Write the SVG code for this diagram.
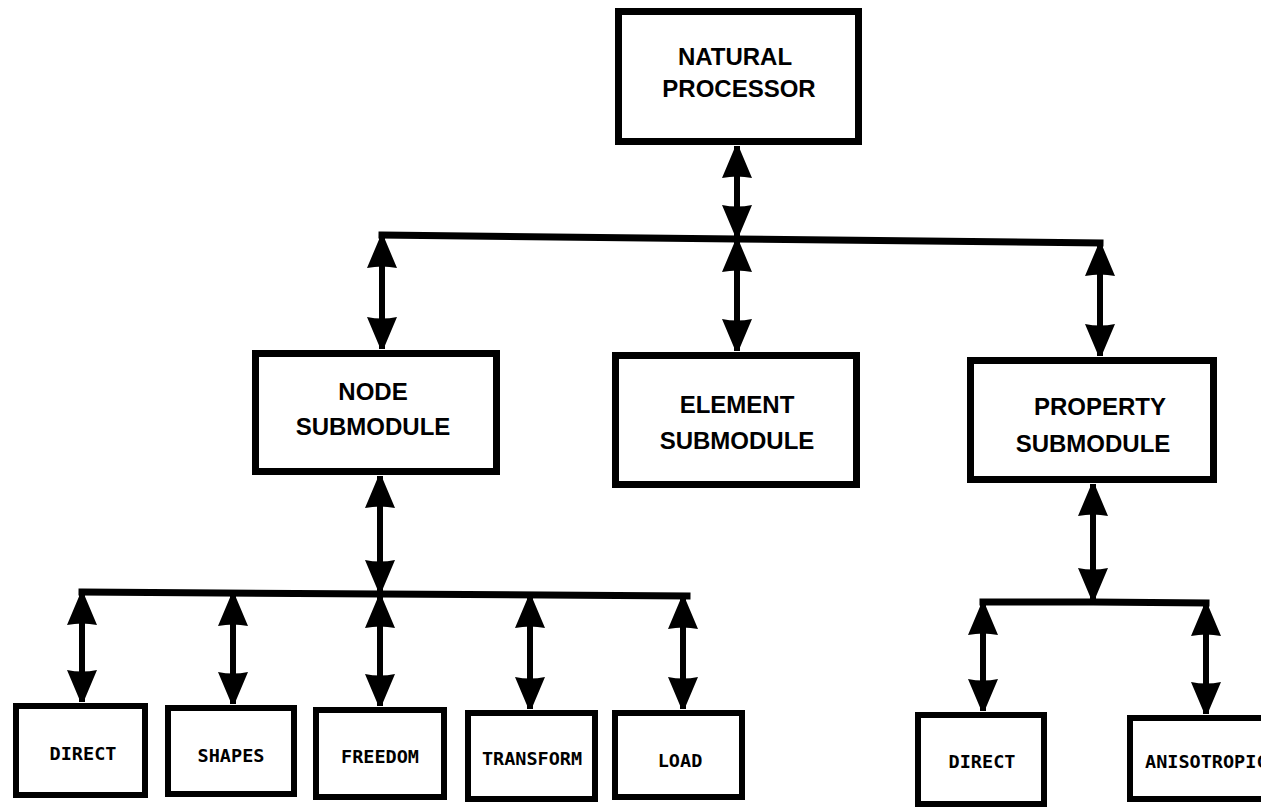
<svg xmlns="http://www.w3.org/2000/svg" width="1261" height="808" viewBox="0 0 1261 808">
<style>
.box{fill:#fff;stroke:#000;stroke-width:7}
.sbox{fill:#fff;stroke:#000;stroke-width:6}
.t{font-family:"Liberation Sans",Arial,sans-serif;font-weight:bold;font-size:24px;fill:#000;text-anchor:middle}
.s{font-family:"DejaVu Sans Mono","Liberation Mono",monospace;font-weight:bold;font-size:18.5px;fill:#000;text-anchor:middle}
.bus{stroke:#000;stroke-width:7;fill:none;stroke-linecap:square}
.c{stroke:#000;stroke-width:6;fill:none;marker-start:url(#ah);marker-end:url(#ah)}
</style>
<defs>
<marker id="ah" viewBox="0 0 32 32" refX="32" refY="16" markerWidth="32" markerHeight="32" markerUnits="userSpaceOnUse" orient="auto-start-reverse">
<path d="M0,1 Q3,16 0,31 L32,17.5 L32,14.5 Z" fill="#000"/>
</marker>
</defs>
<rect width="1261" height="808" fill="#fff"/>
<g id="connectors">
<polyline class="bus" points="382,235 737,239 1100,243"/>
<polyline class="bus" points="82,592 380,594 687,596"/>
<polyline class="bus" points="983,602 1093,602 1206,603"/>
<line class="c" x1="737" y1="146" x2="737" y2="237"/>
<line class="c" x1="382" y1="236" x2="382" y2="349"/>
<line class="c" x1="737" y1="240" x2="737" y2="351"/>
<line class="c" x1="1100" y1="244" x2="1100" y2="356"/>
<line class="c" x1="380" y1="476" x2="380" y2="592"/>
<line class="c" x1="1093" y1="484" x2="1093" y2="600"/>
<line class="c" x1="82" y1="593" x2="82" y2="702"/>
<line class="c" x1="233" y1="594" x2="233" y2="704"/>
<line class="c" x1="380" y1="596" x2="380" y2="706"/>
<line class="c" x1="530" y1="596" x2="530" y2="709"/>
<line class="c" x1="683" y1="597" x2="683" y2="709"/>
<line class="c" x1="983" y1="603" x2="983" y2="711"/>
<line class="c" x1="1206" y1="604" x2="1206" y2="714"/>
</g>
<g id="natural-processor">
<rect class="box" x="618.5" y="11.5" width="240" height="130"/>
<text class="t" x="735" y="65">NATURAL</text>
<text class="t" x="739" y="97">PROCESSOR</text>
</g>
<g id="node-submodule">
<rect class="box" x="255.5" y="353.5" width="241" height="118"/>
<text class="t" x="373" y="400">NODE</text>
<text class="t" x="373" y="435">SUBMODULE</text>
</g>
<g id="element-submodule">
<rect class="box" x="615.5" y="355.5" width="241" height="129"/>
<text class="t" x="737" y="413">ELEMENT</text>
<text class="t" x="737" y="449">SUBMODULE</text>
</g>
<g id="property-submodule">
<rect class="box" x="970.5" y="360.5" width="243" height="119"/>
<text class="t" x="1100" y="415">PROPERTY</text>
<text class="t" x="1093" y="452">SUBMODULE</text>
</g>
<g id="node-direct">
<rect class="sbox" x="16" y="706" width="129" height="89"/>
<text class="s" x="83" y="760">DIRECT</text>
</g>
<g id="shapes">
<rect class="sbox" x="168" y="708" width="126" height="86"/>
<text class="s" x="231" y="762">SHAPES</text>
</g>
<g id="freedom">
<rect class="sbox" x="316" y="710" width="128" height="87"/>
<text class="s" x="380" y="763">FREEDOM</text>
</g>
<g id="transform">
<rect class="sbox" x="468" y="713" width="127" height="86"/>
<text class="s" x="532" y="765">TRANSFORM</text>
</g>
<g id="load">
<rect class="sbox" x="615" y="713" width="127" height="84"/>
<text class="s" x="680" y="767">LOAD</text>
</g>
<g id="property-direct">
<rect class="sbox" x="918" y="715" width="126" height="89"/>
<text class="s" x="982" y="768">DIRECT</text>
</g>
<g id="anisotropic">
<rect class="sbox" x="1130" y="718" width="140" height="81"/>
<text class="s" x="1145" y="768" style="text-anchor:start">ANISOTROPIC</text>
</g>
</svg>
